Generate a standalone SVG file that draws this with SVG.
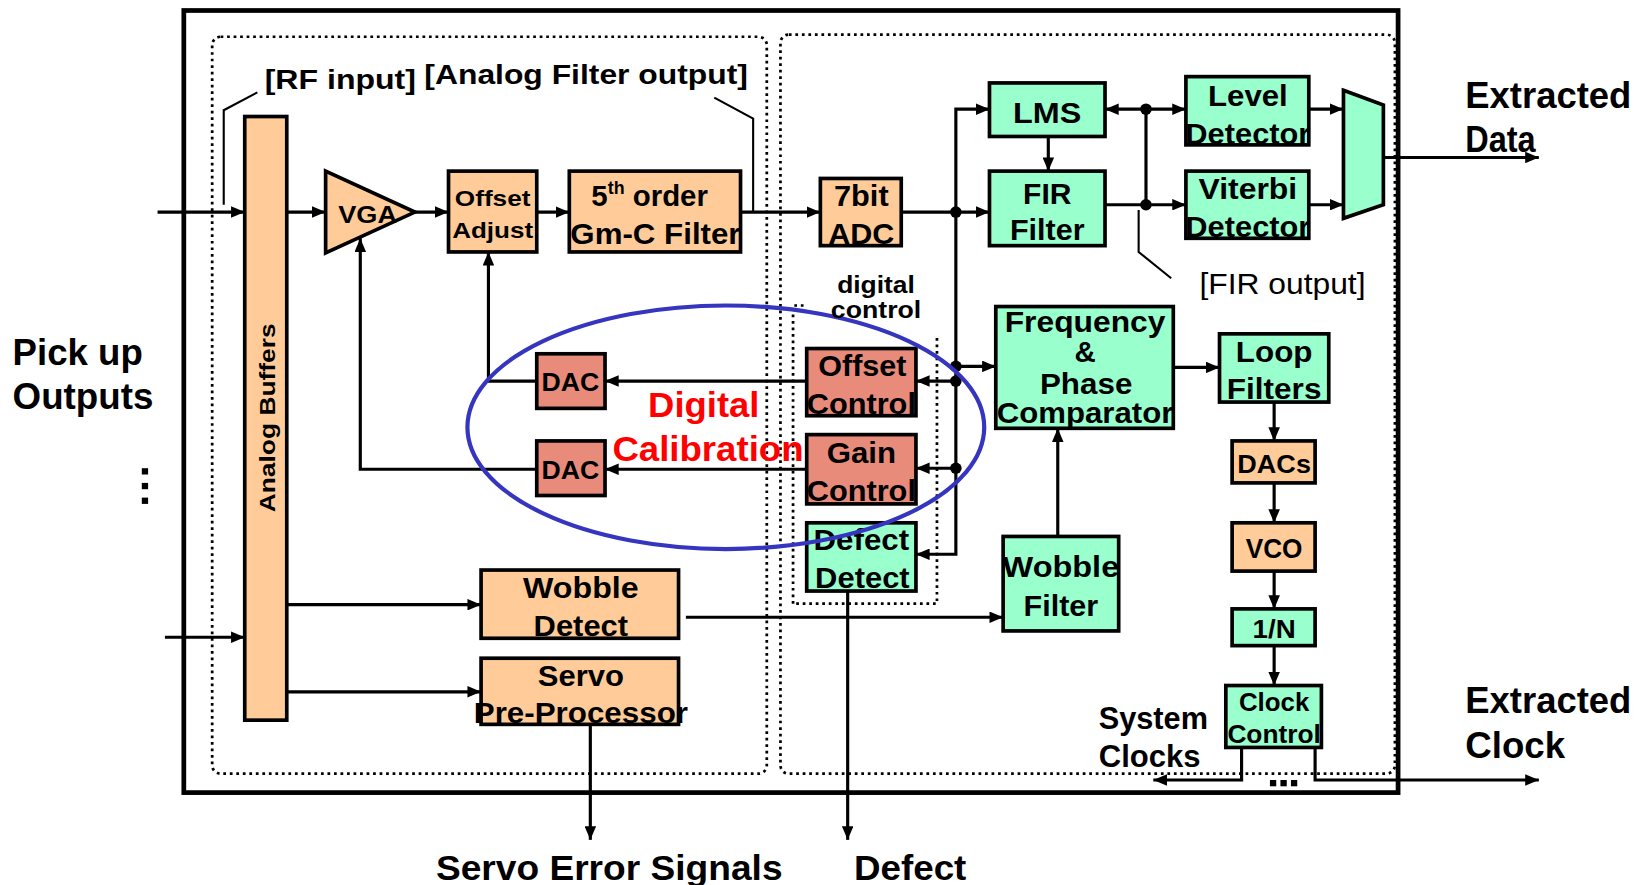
<svg xmlns="http://www.w3.org/2000/svg" width="1647" height="885" viewBox="0 0 1647 885">
<defs>
<marker id="ah" markerUnits="userSpaceOnUse" markerWidth="13" markerHeight="11" refX="13" refY="5.5" orient="auto-start-reverse" viewBox="0 0 13 11"><path d="M0,0 L13,5.5 L0,11 z" fill="#000"/></marker>
<style>
.pe{fill:#FFCC99;stroke:#000;stroke-width:3.5}
.gr{fill:#99FFCC;stroke:#000;stroke-width:3.5}
.sa{fill:#E88B7B;stroke:#000;stroke-width:3.5}
.t{font-family:"Liberation Sans",Arial,sans-serif;font-weight:bold;fill:#000;text-anchor:middle}
.tl{font-family:"Liberation Sans",Arial,sans-serif;font-weight:bold;fill:#000}
.c{fill:none;stroke:#000;stroke-width:3}
.ca{fill:none;stroke:#000;stroke-width:3;marker-end:url(#ah)}
.ld{fill:none;stroke:#000;stroke-width:2}
.dot{fill:none;stroke:#000;stroke-width:2.6;stroke-dasharray:2.6 3.6}
.j{fill:#000}
</style>
</defs>
<rect width="1647" height="885" fill="#fff"/>
<g transform="scale(1.0504,1.0498)">
<g id="frame">
<rect x="175" y="10" width="1156" height="745" fill="none" stroke="#000" stroke-width="4.5"/>
<rect x="202" y="35" width="528" height="702" rx="8" class="dot"/>
<rect x="743" y="33" width="585" height="704" rx="8" class="dot"/>
<path class="dot" d="M755,575 V291 H768 M892,322 V575 H755"/>
</g>
<g id="connectors">
<path class="ca" d="M150,202 H233"/>
<path class="ca" d="M157,607 H233"/>
<path class="ca" d="M273,202 H310"/>
<path class="ca" d="M395,202 H427"/>
<path class="ca" d="M511,202 H542"/>
<path class="ca" d="M705,202 H781"/>
<path class="ca" d="M858,202 H942"/>
<path class="ca" d="M910,202 V104 H942"/>
<path class="ca" d="M910,202 V528 H872"/>
<path class="ca" d="M910,349 H948"/>
<path class="ca" d="M910,363 H872"/>
<path class="ca" d="M910,446 H872"/>
<path class="ca" d="M998,130 V163"/>
<path class="ca" d="M1052,104 H1129" style="marker-start:url(#ah)"/>
<path class="c" d="M1091,104 V195"/>
<path class="ca" d="M1052,195 H1129"/>
<path class="ca" d="M1246,104 H1279"/>
<path class="ca" d="M1246,195 H1279"/>
<path class="ca" d="M1317,150 H1465"/>
<path class="ca" d="M768,363 H576"/>
<path class="ca" d="M768,447 H576"/>
<path class="ca" d="M511,363 H465 V240"/>
<path class="ca" d="M511,447 H343 V227"/>
<path class="ca" d="M1007,511 V408"/>
<path class="ca" d="M1117,350 H1161"/>
<path class="ca" d="M1213,383 V420"/>
<path class="ca" d="M1213,460 V498"/>
<path class="ca" d="M1213,544 V580"/>
<path class="ca" d="M1213,615 V653"/>
<path class="ca" d="M1182,712 V743 H1098"/>
<path class="ca" d="M1252,712 V743 H1465"/>
<path class="ca" d="M273,576 H458"/>
<path class="ca" d="M273,659 H458"/>
<path class="ca" d="M653,588 H955"/>
<path class="ca" d="M562,690 V800"/>
<path class="ca" d="M807,563 V800"/>
<path class="ld" d="M213,195 V105 L245,88"/>
<path class="ld" d="M680,93 L717,113 V202"/>
<path class="ld" d="M1084,200 V240 L1115,265"/>
<circle class="j" cx="910" cy="202" r="5.5"/>
<circle class="j" cx="910" cy="349" r="5.5"/>
<circle class="j" cx="910" cy="363" r="5.5"/>
<circle class="j" cx="910" cy="446" r="5.5"/>
<circle class="j" cx="1091" cy="104" r="5.5"/>
<circle class="j" cx="1091" cy="195" r="5.5"/>
</g>
<g id="buffers"><rect class="pe" x="233" y="111" width="40" height="575"/><text class="t" font-size="21" transform="translate(262,398) rotate(-90)" textLength="180" lengthAdjust="spacingAndGlyphs">Analog Buffers</text></g>
<g id="vga"><polygon class="pe" points="310,163 310,241 395,202"/><text class="t" x="350" y="212" font-size="22" textLength="56" lengthAdjust="spacingAndGlyphs">VGA</text></g>
<g id="offset-adjust"><rect class="pe" x="427" y="163" width="84" height="77"/><text class="t" x="469" y="196" font-size="21" textLength="72" lengthAdjust="spacingAndGlyphs">Offset</text><text class="t" x="469" y="227" font-size="21" textLength="77" lengthAdjust="spacingAndGlyphs">Adjust</text></g>
<g id="gmc-filter"><rect class="pe" x="542" y="163" width="163" height="77"/><text class="tl" x="563" y="196" font-size="28">5<tspan font-size="17" dy="-11">th</tspan><tspan dy="11"> order</tspan></text><text class="t" x="624" y="232" font-size="28" textLength="162" lengthAdjust="spacingAndGlyphs">Gm-C Filter</text></g>
<g id="adc"><rect class="pe" x="781" y="170" width="77" height="64"/><text class="t" x="820" y="196" font-size="28" textLength="52" lengthAdjust="spacingAndGlyphs">7bit</text><text class="t" x="820" y="232" font-size="28" textLength="63" lengthAdjust="spacingAndGlyphs">ADC</text></g>
<g id="lms"><rect class="gr" x="942" y="79" width="110" height="51"/><text class="t" x="997" y="117" font-size="28" textLength="65" lengthAdjust="spacingAndGlyphs">LMS</text></g>
<g id="fir"><rect class="gr" x="942" y="163" width="110" height="71"/><text class="t" x="997" y="194" font-size="28" textLength="46" lengthAdjust="spacingAndGlyphs">FIR</text><text class="t" x="997" y="229" font-size="28" textLength="71" lengthAdjust="spacingAndGlyphs">Filter</text></g>
<g id="level-detector"><rect class="gr" x="1129" y="73" width="117" height="65"/><text class="t" x="1188" y="101" font-size="28" textLength="76" lengthAdjust="spacingAndGlyphs">Level</text><text class="t" x="1188" y="137" font-size="28" textLength="119" lengthAdjust="spacingAndGlyphs">Detector</text></g>
<g id="viterbi-detector"><rect class="gr" x="1129" y="163" width="117" height="64"/><text class="t" x="1188" y="190" font-size="28" textLength="94" lengthAdjust="spacingAndGlyphs">Viterbi</text><text class="t" x="1188" y="226" font-size="28" textLength="119" lengthAdjust="spacingAndGlyphs">Detector</text></g>
<g id="mux"><polygon class="gr" points="1279,86 1317,100 1317,195 1279,208"/></g>
<g id="offset-control"><rect class="sa" x="768" y="332" width="104" height="64"/><text class="t" x="821" y="358" font-size="28" textLength="84" lengthAdjust="spacingAndGlyphs">Offset</text><text class="t" x="820" y="394" font-size="28" textLength="104" lengthAdjust="spacingAndGlyphs">Control</text></g>
<g id="gain-control"><rect class="sa" x="768" y="414" width="104" height="66"/><text class="t" x="820" y="441" font-size="28" textLength="66" lengthAdjust="spacingAndGlyphs">Gain</text><text class="t" x="820" y="477" font-size="28" textLength="104" lengthAdjust="spacingAndGlyphs">Control</text></g>
<g id="defect-detect"><rect class="gr" x="768" y="498" width="104" height="65"/><text class="t" x="820" y="524" font-size="28" textLength="91" lengthAdjust="spacingAndGlyphs">Defect</text><text class="t" x="821" y="560" font-size="28" textLength="90" lengthAdjust="spacingAndGlyphs">Detect</text></g>
<g id="dac1"><rect class="sa" x="511" y="337" width="65" height="52"/><text class="t" x="543" y="372" font-size="24" textLength="55" lengthAdjust="spacingAndGlyphs">DAC</text></g>
<g id="dac2"><rect class="sa" x="511" y="420" width="65" height="52"/><text class="t" x="543" y="456" font-size="24" textLength="55" lengthAdjust="spacingAndGlyphs">DAC</text></g>
<g id="freq-phase"><rect class="gr" x="948" y="292" width="169" height="116"/><text class="t" x="1033" y="316" font-size="28" textLength="153" lengthAdjust="spacingAndGlyphs">Frequency</text><text class="t" x="1033" y="345" font-size="28">&amp;</text><text class="t" x="1034" y="375" font-size="28" textLength="88" lengthAdjust="spacingAndGlyphs">Phase</text><text class="t" x="1033" y="403" font-size="28" textLength="168" lengthAdjust="spacingAndGlyphs">Comparator</text></g>
<g id="loop-filters"><rect class="gr" x="1161" y="318" width="104" height="65"/><text class="t" x="1213" y="345" font-size="28" textLength="73" lengthAdjust="spacingAndGlyphs">Loop</text><text class="t" x="1213" y="380" font-size="28" textLength="90" lengthAdjust="spacingAndGlyphs">Filters</text></g>
<g id="dacs"><rect class="pe" x="1173" y="420" width="79" height="40"/><text class="t" x="1213" y="451" font-size="24" textLength="70" lengthAdjust="spacingAndGlyphs">DACs</text></g>
<g id="vco"><rect class="pe" x="1173" y="498" width="79" height="46"/><text class="t" x="1213" y="532" font-size="26" textLength="54" lengthAdjust="spacingAndGlyphs">VCO</text></g>
<g id="div-n"><rect class="gr" x="1173" y="580" width="79" height="35"/><text class="t" x="1213" y="608" font-size="24" textLength="41" lengthAdjust="spacingAndGlyphs">1/N</text></g>
<g id="clock-control"><rect class="gr" x="1167" y="653" width="91" height="59"/><text class="t" x="1213" y="677" font-size="24" textLength="67" lengthAdjust="spacingAndGlyphs">Clock</text><text class="t" x="1213" y="708" font-size="24" textLength="89" lengthAdjust="spacingAndGlyphs">Control</text></g>
<g id="wobble-filter"><rect class="gr" x="955" y="511" width="110" height="90"/><text class="t" x="1010" y="550" font-size="28" textLength="111" lengthAdjust="spacingAndGlyphs">Wobble</text><text class="t" x="1010" y="587" font-size="28" textLength="71" lengthAdjust="spacingAndGlyphs">Filter</text></g>
<g id="wobble-detect"><rect class="pe" x="458" y="543" width="188" height="65"/><text class="t" x="553" y="570" font-size="28" textLength="110" lengthAdjust="spacingAndGlyphs">Wobble</text><text class="t" x="553" y="606" font-size="28" textLength="90" lengthAdjust="spacingAndGlyphs">Detect</text></g>
<g id="servo-pre"><rect class="pe" x="458" y="627" width="188" height="63"/><text class="t" x="553" y="653" font-size="28" textLength="82" lengthAdjust="spacingAndGlyphs">Servo</text><text class="t" x="553" y="689" font-size="28" textLength="204" lengthAdjust="spacingAndGlyphs">Pre-Processor</text></g>
<g id="calibration">
<ellipse cx="691" cy="407" rx="246" ry="116" fill="none" stroke="#3535C0" stroke-width="4"/>
<text class="t" x="670" y="397" font-size="34" fill="#FF0000" style="fill:#FF0000" textLength="106" lengthAdjust="spacingAndGlyphs">Digital</text>
<text class="t" x="674" y="439" font-size="34" style="fill:#FF0000" textLength="182" lengthAdjust="spacingAndGlyphs">Calibration</text>
</g>
<g id="labels">
<text class="tl" x="252" y="85" font-size="26" textLength="144" lengthAdjust="spacingAndGlyphs">[RF input]</text>
<text class="tl" x="404" y="80" font-size="27" textLength="308" lengthAdjust="spacingAndGlyphs">[Analog Filter output]</text>
<text x="1142" y="280" font-family="Liberation Sans,Arial,sans-serif" font-size="28" textLength="158" lengthAdjust="spacingAndGlyphs">[FIR output]</text>
<text class="t" x="834" y="279" font-size="22" textLength="74" lengthAdjust="spacingAndGlyphs">digital</text>
<text class="t" x="834" y="303" font-size="22" textLength="86" lengthAdjust="spacingAndGlyphs">control</text>
<text class="tl" x="1395" y="103" font-size="35" textLength="158" lengthAdjust="spacingAndGlyphs">Extracted</text>
<text class="tl" x="1395" y="145" font-size="35" textLength="67" lengthAdjust="spacingAndGlyphs">Data</text>
<text class="tl" x="1395" y="679" font-size="35" textLength="158" lengthAdjust="spacingAndGlyphs">Extracted</text>
<text class="tl" x="1395" y="722" font-size="35" textLength="95" lengthAdjust="spacingAndGlyphs">Clock</text>
<text class="tl" x="1046" y="694" font-size="29" textLength="104" lengthAdjust="spacingAndGlyphs">System</text>
<text class="tl" x="1046" y="731" font-size="29" textLength="97" lengthAdjust="spacingAndGlyphs">Clocks</text>
<text class="tl" x="12" y="348" font-size="35" textLength="124" lengthAdjust="spacingAndGlyphs">Pick up</text>
<text class="tl" x="12" y="390" font-size="35" textLength="134" lengthAdjust="spacingAndGlyphs">Outputs</text>
<text class="tl" x="415" y="838" font-size="34" textLength="330" lengthAdjust="spacingAndGlyphs">Servo Error Signals</text>
<text class="tl" x="813" y="838" font-size="34" textLength="107" lengthAdjust="spacingAndGlyphs">Defect</text>
<rect x="135" y="446" width="6" height="6"/><rect x="135" y="460" width="6" height="6"/><rect x="135" y="474" width="6" height="6"/>
<rect x="1209" y="743" width="6" height="6"/><rect x="1219" y="743" width="6" height="6"/><rect x="1229" y="743" width="6" height="6"/>
</g>
</g>
</svg>
